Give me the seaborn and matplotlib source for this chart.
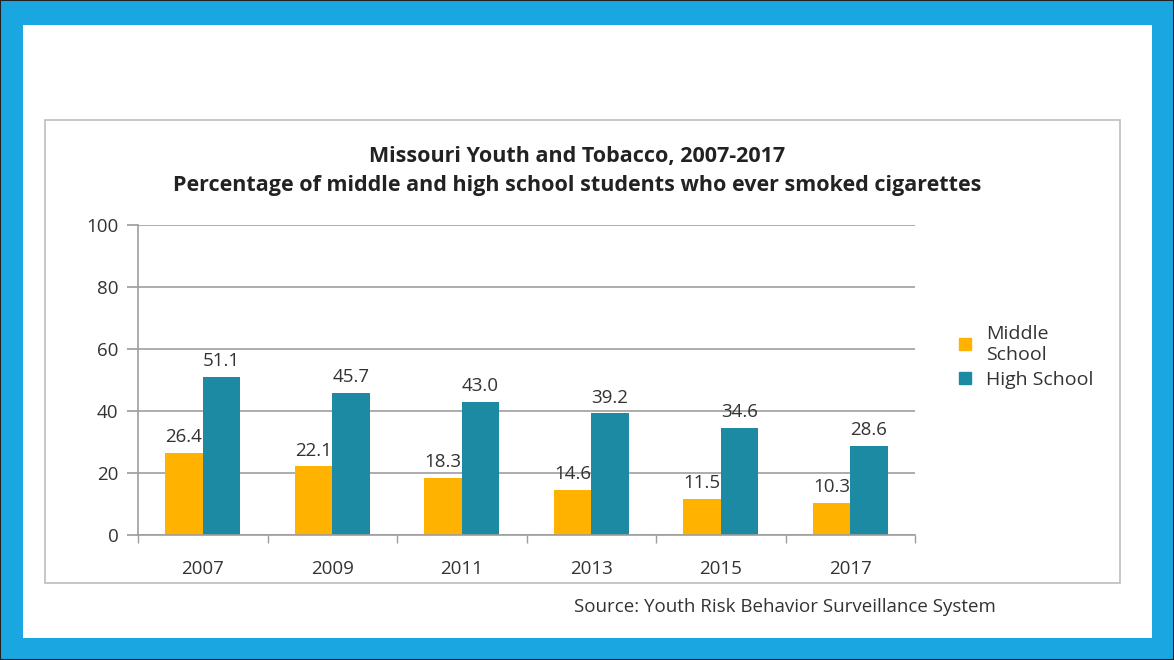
import matplotlib
matplotlib.use("Agg")
import matplotlib.pyplot as plt
import matplotlib.patches as mpatches
from matplotlib.lines import Line2D
import seaborn as sns
import pandas as pd
import numpy as np

years = ["2007", "2009", "2011", "2013", "2015", "2017"]
middle_school = [26.4, 22.1, 18.3, 14.6, 11.5, 10.3]
high_school = [51.1, 45.7, 43.0, 39.2, 34.6, 28.6]
series_names = ["Middle\nSchool", "High School"]
y_ticks = [0, 20, 40, 60, 80, 100]
title_text = "Missouri Youth and Tobacco, 2007-2017\nPercentage of middle and high school students who ever smoked cigarettes"
source_text = "Source: Youth Risk Behavior Surveillance System"

colors = ["#FFB300", "#1C8AA3"]

df = pd.DataFrame({
    "year": years * 2,
    "value": middle_school + high_school,
    "series": [series_names[0]] * len(years) + [series_names[1]] * len(years),
})

sns.set_theme(style="white")
plt.rcParams["font.family"] = ["Open Sans", "DejaVu Sans"]

W, H = 1174, 660
fig = plt.figure(figsize=(W / 100, H / 100), dpi=100)
fig.patch.set_facecolor("#1AA6E0")

# outer black edge
fig.add_artist(mpatches.Rectangle((0, 0), 1, 1, transform=fig.transFigure,
                                  fill=False, edgecolor="#222222", linewidth=1.5,
                                  zorder=-3))
# white inner panel
fig.add_artist(mpatches.Rectangle((23 / W, (H - 638) / H), (1152 - 23) / W, (638 - 25) / H,
                                  transform=fig.transFigure, facecolor="white",
                                  edgecolor="none", zorder=-2))
# chart frame
fig.add_artist(mpatches.Rectangle((45 / W, (H - 583) / H), (1120 - 45) / W, (583 - 120) / H,
                                  transform=fig.transFigure, facecolor="white",
                                  edgecolor="#BDBDBD", linewidth=1.2, zorder=-1))

ax = fig.add_axes([138 / W, (H - 535) / H, (915 - 138) / W, (535 - 225) / H])
ax.set_zorder(2)
ax.set_facecolor("none")

sns.barplot(data=df, x="year", y="value", hue="series", palette=colors,
            width=0.58, gap=0, ax=ax, legend=False, saturation=1, linewidth=0)

for cont in ax.containers:
    ax.bar_label(cont, fmt="%.1f", padding=5, fontsize=13.5, color="#333333")

ax.set_ylim(0, 100)
ax.set_yticks(y_ticks)
ax.set_xlim(-0.5, len(years) - 0.5)
ax.yaxis.grid(True, color="#9E9E9E", linewidth=1.2)
ax.set_axisbelow(True)
for s in ["top", "right"]:
    ax.spines[s].set_visible(False)
for s in ["left", "bottom"]:
    ax.spines[s].set_color("#9E9E9E")
    ax.spines[s].set_linewidth(1.2)
ax.tick_params(axis="y", left=True, length=8, color="#9E9E9E", labelsize=13.5,
               labelcolor="#333333", pad=6)
ax.tick_params(axis="x", bottom=False, labelsize=13.5, labelcolor="#333333", pad=12)
ax.set_xticks(np.arange(-0.5, len(years), 1.0), minor=True)
ax.tick_params(axis="x", which="minor", bottom=True, length=6, color="#9E9E9E")
ax.set_xlabel("")
ax.set_ylabel("")

fig.text(577 / W, 1 - 171 / H, title_text, ha="center", va="center",
         fontsize=15.5, fontweight="bold", color="#222222", linespacing=1.5)

handles = [Line2D([0], [0], marker="s", linestyle="none", markersize=8,
                  markerfacecolor=c, markeredgecolor=c) for c in colors]
fig.legend(handles, series_names, loc="center left",
           bbox_to_anchor=(928 / W, 1 - 357 / H), frameon=False,
           fontsize=14, handletextpad=0.1, labelspacing=0.4,
           labelcolor="#333333")

fig.text(785 / W, 1 - 607 / H, source_text, ha="center", va="center",
         fontsize=13.5, color="#333333")

fig.savefig("out.png", dpi=100, facecolor=fig.get_facecolor())
